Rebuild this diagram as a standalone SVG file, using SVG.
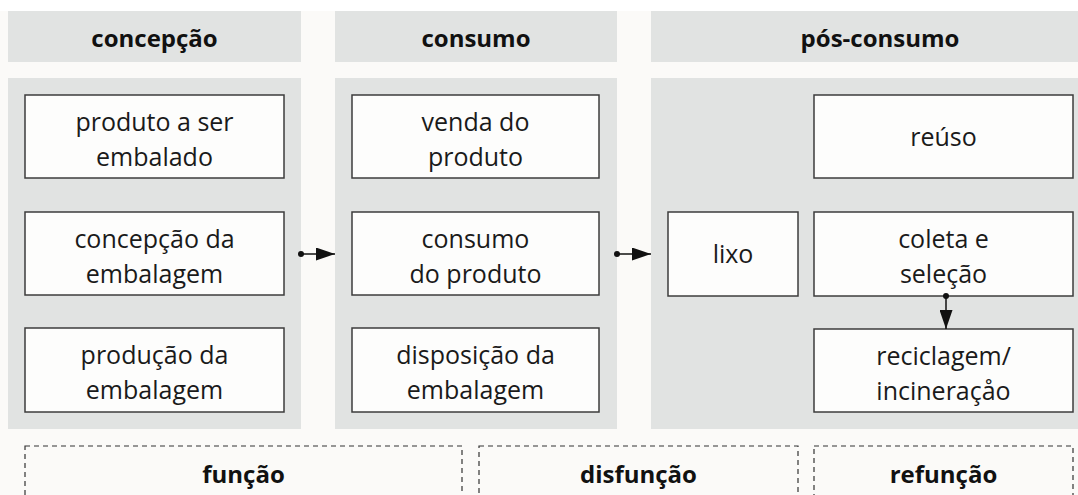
<svg xmlns="http://www.w3.org/2000/svg" width="1078" height="495" viewBox="0 0 1078 495">
<defs>
<style>
.bg{fill:#fbfaf8}
.col{fill:#e1e3e2}
.box{fill:#fdfdfc;stroke:#3c3c3c;stroke-width:1.5}
.dash{fill:none;stroke:#333;stroke-width:1.2;stroke-dasharray:5 4}
.h{font-family:"Open Sans","Liberation Sans",sans-serif;font-weight:bold;font-size:24px;fill:#111;text-anchor:middle}
.t{font-family:"Open Sans","Liberation Sans",sans-serif;font-size:25px;fill:#1a1a1a;text-anchor:middle}
.conn{stroke:#111;stroke-width:1.5;fill:none}
</style>
<marker id="ah" viewBox="0 0 19 13" refX="19" refY="6.5" markerWidth="19" markerHeight="13" markerUnits="userSpaceOnUse" orient="auto">
<path d="M0,0 L19,6.5 L0,13 Z" fill="#111"/>
</marker>
</defs>
<rect x="0" y="0" width="1078" height="495" fill="#ffffff"/>
<rect class="bg" x="0" y="11" width="1078" height="484"/>
<g id="col-concepcao">
<rect class="col" x="8" y="11" width="293" height="51"/>
<text class="h" x="154.5" y="47">concepção</text>
<rect class="col" x="8" y="78" width="293" height="351"/>
</g>
<g id="col-consumo">
<rect class="col" x="335" y="11" width="282" height="51"/>
<text class="h" x="476" y="47">consumo</text>
<rect class="col" x="335" y="78" width="282" height="351"/>
</g>
<g id="col-pos-consumo">
<rect class="col" x="651" y="11" width="427" height="51"/>
<text class="h" x="880" y="47">pós-consumo</text>
<rect class="col" x="651" y="78" width="427" height="351"/>
</g>
<g id="n-produto">
<rect class="box" x="25" y="95" width="259" height="83"/>
<text class="t" x="154.5" y="131">produto a ser</text>
<text class="t" x="154.5" y="166">embalado</text>
</g>
<g id="n-concepcao-emb">
<rect class="box" x="25" y="212" width="259" height="83"/>
<text class="t" x="154.5" y="248">concepção da</text>
<text class="t" x="154.5" y="283">embalagem</text>
</g>
<g id="n-producao-emb">
<rect class="box" x="25" y="328" width="259" height="84"/>
<text class="t" x="154.5" y="364">produção da</text>
<text class="t" x="154.5" y="399">embalagem</text>
</g>
<g id="n-venda">
<rect class="box" x="352" y="95" width="247" height="83"/>
<text class="t" x="475.5" y="131">venda do</text>
<text class="t" x="475.5" y="166">produto</text>
</g>
<g id="n-consumo-prod">
<rect class="box" x="352" y="212" width="247" height="83"/>
<text class="t" x="475.5" y="248">consumo</text>
<text class="t" x="475.5" y="283">do produto</text>
</g>
<g id="n-disposicao">
<rect class="box" x="352" y="328" width="247" height="84"/>
<text class="t" x="475.5" y="364">disposição da</text>
<text class="t" x="475.5" y="399">embalagem</text>
</g>
<g id="n-lixo">
<rect class="box" x="668" y="212" width="130" height="84"/>
<text class="t" x="733" y="263">lixo</text>
</g>
<g id="n-reuso">
<rect class="box" x="814" y="95" width="259" height="83"/>
<text class="t" x="943.5" y="146">reúso</text>
</g>
<g id="n-coleta">
<rect class="box" x="814" y="212" width="259" height="84"/>
<text class="t" x="943.5" y="248">coleta e</text>
<text class="t" x="943.5" y="283">seleção</text>
</g>
<g id="n-reciclagem">
<rect class="box" x="814" y="329" width="259" height="83"/>
<text class="t" x="943.5" y="365">reciclagem/</text>
<text class="t" x="943.5" y="400">incineraçåo</text>
</g>
<g id="n-funcao">
<rect class="dash" x="25" y="446" width="437" height="60"/>
<text class="h" x="243.5" y="483">função</text>
</g>
<g id="n-disfuncao">
<rect class="dash" x="479" y="446" width="319" height="60"/>
<text class="h" x="638.5" y="483">disfunção</text>
</g>
<g id="n-refuncao">
<rect class="dash" x="814" y="446" width="259" height="60"/>
<text class="h" x="943.5" y="483">refunção</text>
</g>
<g id="connectors">
<circle cx="301" cy="254" r="3" fill="#111"/>
<line class="conn" x1="301" y1="254" x2="335" y2="254" marker-end="url(#ah)"/>
<circle cx="617" cy="254" r="3" fill="#111"/>
<line class="conn" x1="617" y1="254" x2="651" y2="254" marker-end="url(#ah)"/>
<circle cx="946" cy="296" r="3" fill="#111"/>
<line class="conn" x1="946" y1="296" x2="946" y2="329" marker-end="url(#ah)"/>
</g>
</svg>
